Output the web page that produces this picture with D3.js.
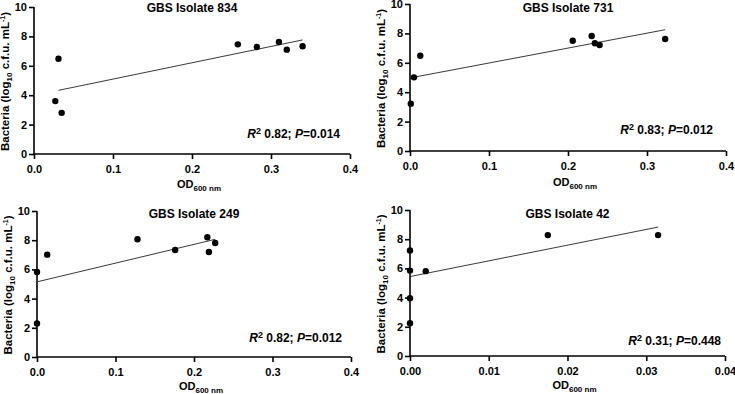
<!DOCTYPE html>
<html>
<head>
<meta charset="utf-8">
<script src="https://cdn.jsdelivr.net/npm/d3@7"></script>
<style>
  body { margin: 0; background: #fff; }
  svg text { font-family: "Liberation Sans", Arial, sans-serif; font-weight: bold; fill: #000; }
</style>
</head>
<body>
<svg width="735" height="394"></svg>
<script>
// isolate names, one per panel
var titles = ["GBS Isolate 834", "GBS Isolate 731", "GBS Isolate 249", "GBS Isolate 42"];

// OD600 readings and bacterial counts (log10 cfu/mL)
var od834 = [0.027, 0.031, 0.035, 0.258, 0.282, 0.310, 0.320, 0.340];
var cfu834 = [3.6, 6.48, 2.8, 7.46, 7.28, 7.62, 7.1, 7.33];
var od731 = [0.001, 0.005, 0.013, 0.206, 0.230, 0.234, 0.240, 0.323];
var cfu731 = [3.22, 5.01, 6.48, 7.5, 7.82, 7.33, 7.21, 7.62];
var od249 = [0.0, 0.0, 0.013, 0.128, 0.176, 0.217, 0.219, 0.227];
var cfu249 = [5.82, 2.29, 7.01, 8.06, 7.33, 8.2, 7.19, 7.81];
var od42 = [0.0, 0.0, 0.0, 0.0, 0.002, 0.0175, 0.0315];
var cfu42 = [7.23, 5.85, 3.96, 2.24, 5.81, 8.28, 8.28];

// regression line end points (x range and fitted y)
var fitOd = [[0.031, 0.340], [0.002, 0.323], [0.001, 0.227], [0.0, 0.0315]];
var fitCfu = [[4.33, 7.76], [4.99, 8.25], [5.16, 8.06], [5.44, 8.83]];

var r2Values = ["0.82", "0.83", "0.82", "0.31"];
var pValues = ["0.014", "0.012", "0.012", "0.448"];

var xMax = [0.4, 0.4, 0.4, 0.04];
var xTickVals = [[0, 0.1, 0.2, 0.3, 0.4], [0, 0.1, 0.2, 0.3, 0.4], [0, 0.1, 0.2, 0.3, 0.4], [0, 0.01, 0.02, 0.03, 0.04]];
var xTickFmt = [".1f", ".1f", ".1f", ".2f"];
var yTickVals = [0, 2, 4, 6, 8, 10];

var odSets = [od834, od731, od249, od42];
var cfuSets = [cfu834, cfu731, cfu249, cfu42];

// pixel layout of each panel
var panels = [
	{ left: 34, right: 350, top: 7, bottom: 154, titleY: 12, xlabY: 188, annX: 340, annY: 138 },
	{ left: 410, right: 726, top: 4, bottom: 151, titleY: 12, xlabY: 186, annX: 713, annY: 134 },
	{ left: 37, right: 351, top: 211, bottom: 357, titleY: 218, xlabY: 390, annX: 342, annY: 342 },
	{ left: 410, right: 725, top: 210, bottom: 356, titleY: 218, xlabY: 389, annX: 721, annY: 345 }
];

var svg = d3.select("svg");

panels.forEach(function(p, i) {
	var x = d3.scaleLinear().domain([0, xMax[i]]).range([p.left, p.right]);
	var y = d3.scaleLinear().domain([0, 10]).range([p.bottom, p.top]);
	var g = svg.append("g");

	var xAxis = g.append("g")
		.attr("transform", "translate(0," + p.bottom + ")")
		.call(d3.axisBottom(x).tickValues(xTickVals[i]).tickFormat(d3.format(xTickFmt[i])).tickSize(5).tickPadding(6));
	var yAxis = g.append("g")
		.attr("transform", "translate(" + p.left + ",0)")
		.call(d3.axisLeft(y).tickValues(yTickVals).tickSize(5).tickPadding(2));

	[xAxis, yAxis].forEach(function(a) {
		a.select(".domain").attr("stroke", "#000").attr("stroke-width", 1.6);
		a.selectAll(".tick line").attr("stroke", "#000").attr("stroke-width", 1.6);
		a.selectAll(".tick text").style("font-size", "11px").attr("fill", "#000");
	});
	// d3 draws outer ticks on the domain path; remove them
	xAxis.select(".domain").attr("d", "M" + p.left + ",0H" + p.right);
	yAxis.select(".domain").attr("d", "M0," + p.bottom + "V" + p.top);

	// regression line
	g.append("line")
		.attr("x1", x(fitOd[i][0])).attr("y1", y(fitCfu[i][0]))
		.attr("x2", x(fitOd[i][1])).attr("y2", y(fitCfu[i][1]))
		.attr("stroke", "#222").attr("stroke-width", 0.9);

	// points
	g.selectAll("circle")
		.data(odSets[i].map(function(d, j) { return [d, cfuSets[i][j]]; }))
		.enter()
		.append("circle")
		.attr("cx", function(d) { return x(d[0]); })
		.attr("cy", function(d) { return y(d[1]); })
		.attr("r", 3.2)
		.attr("fill", "#000");

	// title
	g.append("text")
		.attr("x", (p.left + p.right) / 2)
		.attr("y", p.titleY)
		.attr("text-anchor", "middle")
		.style("font-size", "12px")
		.text(titles[i]);

	// x label
	var xl = g.append("text")
		.attr("x", (p.left + p.right) / 2 + 7)
		.attr("y", p.xlabY)
		.attr("text-anchor", "middle")
		.style("font-size", "11px");
	xl.append("tspan").text("OD");
	xl.append("tspan").attr("dy", 3).style("font-size", "8px").text("600 nm");

	// y label
	var yl = g.append("text")
		.attr("transform", "translate(" + (p.left - 25) + "," + ((p.top + p.bottom) / 2 + 1) + ") rotate(-90)")
		.attr("text-anchor", "middle")
		.style("font-size", "11.5px");
	yl.append("tspan").text("Bacteria (log");
	yl.append("tspan").attr("dy", 3).style("font-size", "8px").text("10");
	yl.append("tspan").attr("dy", -3).text(" c.f.u. mL");
	yl.append("tspan").attr("dy", -4).style("font-size", "7px").text("-1");
	yl.append("tspan").attr("dy", 4).text(")");

	// R2 / P annotation
	var ann = g.append("text")
		.attr("x", p.annX)
		.attr("y", p.annY)
		.attr("text-anchor", "end")
		.style("font-size", "12px");
	ann.append("tspan").style("font-style", "italic").text("R");
	ann.append("tspan").attr("dy", -4).style("font-size", "9px").text("2");
	ann.append("tspan").attr("dy", 4).text(" " + r2Values[i] + "; ");
	ann.append("tspan").style("font-style", "italic").text("P");
	ann.append("tspan").text("=" + pValues[i]);
});
</script>
</body>
</html>
